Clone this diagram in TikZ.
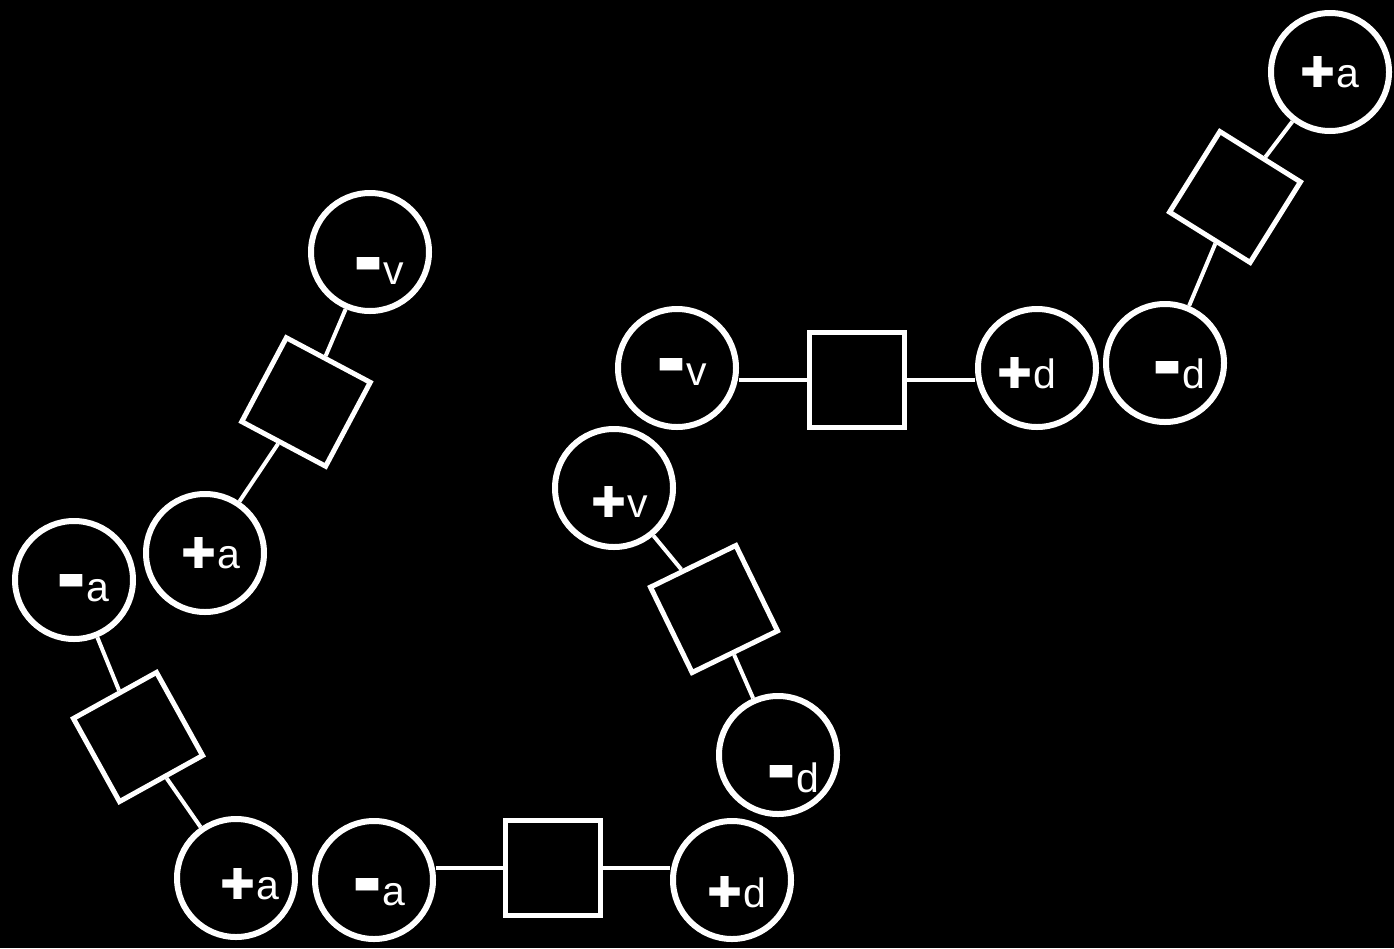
\documentclass[tikz,border=0pt]{standalone}
\usepackage{graphicx}
\usepackage{fontspec}
\setmainfont{Liberation Sans}
\newfontfamily\symfont{DejaVu Sans}
\usetikzlibrary{positioning}

\newcommand{\sgnplus}{\resizebox{35pt}{31pt}{\symfont ✚}\hspace{1pt}}
\newcommand{\sgnminus}{\raisebox{12pt}{\resizebox{28pt}{15pt}{\symfont ▬}}\hspace{1pt}}

\begin{document}
\begin{tikzpicture}[
  x=1pt, y=-1pt,
  port/.style={circle,draw=white,line width=6pt,minimum size=118pt,inner sep=0pt},
  gate/.style={rectangle,draw=white,line width=5pt,minimum size=95pt,inner sep=0pt},
  wire/.style={draw=white,line width=4pt},
  tag/.style={text=white,anchor=base,inner sep=0pt,font=\fontsize{41}{41}\selectfont}
]

\fill[black] (0,0) rectangle (1394,948);

% top right
\node[port] (pa1) at (1330,72) {};
\node[gate,rotate=-32] (g1) at (1235,197) {};
\node[port] (md1) at (1165,363) {};
\node[tag] at ([shift={(0,15)}]pa1.center) {\sgnplus a};
\node[tag] at ([shift={(14,25)}]md1.center) {\sgnminus d};
\draw[wire] (pa1) -- (g1);
\draw[wire] (g1) -- (md1);

% middle row
\node[port] (mv2) at (677,368) {};
\node[gate] (g2) at (857,380) {};
\node[port] (pd2) at (1037,368) {};
\node[tag] at ([shift={(5,17)}]mv2.center) {\sgnminus v};
\node[tag] at ([shift={(-10.5,20)}]pd2.center) {\sgnplus d};
\draw[wire] (g2.west) -- (g2.west -| mv2.east);
\draw[wire] (g2.east) -- (g2.east -| pd2.west);

% middle slanted
\node[port] (pv3) at (614,488) {};
\node[gate,rotate=26] (g3) at (714,609) {};
\node[port] (md3) at (778,755) {};
\node[tag] at ([shift={(5.5,29)}]pv3.center) {\sgnplus v};
\node[tag] at ([shift={(15.5,37)}]md3.center) {\sgnminus d};
\draw[wire] (pv3) -- (g3);
\draw[wire] (g3) -- (md3);

% upper left
\node[port] (mv4) at (370,252) {};
\node[gate,rotate=-28] (g4) at (306,402) {};
\node[port] (pa4) at (205,553) {};
\node[tag] at ([shift={(9.5,32)}]mv4.center) {\sgnminus v};
\node[tag] at ([shift={(5.5,15)}]pa4.center) {\sgnplus a};
\draw[wire] (mv4) -- (g4);
\draw[wire] (g4) -- (pa4);

% lower left
\node[port] (ma5) at (74,580) {};
\node[gate,rotate=29] (g5) at (138,737) {};
\node[port] (pa5) at (236,878) {};
\node[tag] at ([shift={(9,21)}]ma5.center) {\sgnminus a};
\node[tag] at ([shift={(13.5,21)}]pa5.center) {\sgnplus a};
\draw[wire] (ma5) -- (g5);
\draw[wire] (g5) -- (pa5);

% bottom row
\node[port] (ma6) at (374,880) {};
\node[gate] (g6) at (553,868) {};
\node[port] (pd6) at (732,880) {};
\node[tag] at ([shift={(5,25)}]ma6.center) {\sgnminus a};
\node[tag] at ([shift={(5,27)}]pd6.center) {\sgnplus d};
\draw[wire] (g6.west) -- (g6.west -| ma6.east);
\draw[wire] (g6.east) -- (g6.east -| pd6.west);

\end{tikzpicture}
\end{document}
